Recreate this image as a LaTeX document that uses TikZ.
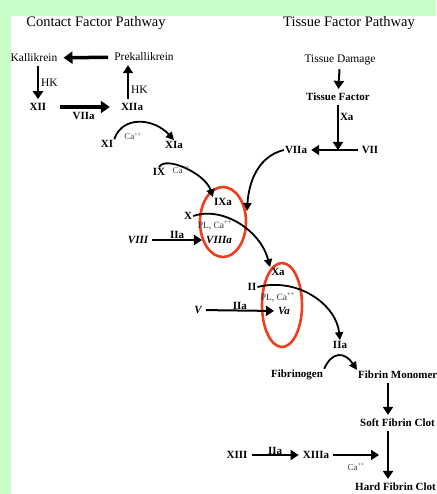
\documentclass[tikz,border=0pt]{standalone}
\usepackage{fontspec}
\setmainfont{Liberation Serif}
\usetikzlibrary{arrows.meta,positioning,backgrounds}
\definecolor{pagegreen}{RGB}{200,255,200}
\definecolor{ringred}{RGB}{238,62,30}

\begin{document}
\begin{tikzpicture}[x=1pt,y=-1pt,
	title/.style={font=\fontsize{14.5}{16}\selectfont, inner sep=0pt},
	plain/.style={font=\fontsize{11.5}{13}\selectfont, inner sep=1pt},
	fac/.style={font=\fontsize{11}{13}\selectfont\bfseries, inner sep=1pt},
	facit/.style={font=\fontsize{11}{13}\selectfont\bfseries\itshape, inner sep=1pt},
	ion/.style={font=\fontsize{9}{10}\selectfont, text=black!75, inner sep=0pt},
	cofac/.style={font=\fontsize{9.5}{11}\selectfont, text=black!80, inner sep=0pt},
	conv/.style={-{Triangle[length=8pt,width=10pt]}, line width=2pt, shorten <=3pt, shorten >=3pt},
	heavy/.style={-{Triangle[length=9pt,width=12pt]}, line width=3.5pt, shorten <=5pt, shorten >=5pt},
	curv/.style={-{Triangle[length=8pt,width=8pt]}, line width=1.8pt},
	ring/.style={draw=ringred, line width=2.6pt}]

		\useasboundingbox (0,0) rectangle (436,494);
		\clip (0,0) rectangle (436,494);

		% two pathway headings
		\node[title](cfp) at (96,23) {Contact Factor Pathway};
		\node[title](tfp) at (349,23) {Tissue Factor Pathway};

		\node[plain](kal) at (34,58) {Kallikrein};
		\node[plain](pkal) at (144,57) {Prekallikrein};
		\node[fac](xii) at (38,107) {XII};
		\node[fac](xiia) at (132,107) {XIIa};
		\node[fac](xi) at (107,144) {XI};
		\node[fac](xia) at (174,145) {XIa};
		\node[fac](ix) at (159,172) {IX};

		\node[plain](td) at (340,60) {Tissue Damage};
		\node[fac](tf) at (338,97) {Tissue Factor};
		\node[fac](viia) at (296,150) {VIIa};
		\node[fac](vii) at (370,150) {VII};

		\node[fac](ixa) at (223,202) {IXa};
		\node[cofac](pl1) at (215,225) {PL, Ca\textsuperscript{++}};
		\node[facit](viiia) at (219,240) {VIIIa};
		\node[fac](x) at (188,216) {X};
		\node[facit](viii) at (138,240) {VIII};
		\coordinate (ring1) at (247,211);

		\node[fac](xa) at (278,272) {Xa};
		\node[cofac](pl2) at (278,297) {PL, Ca\textsuperscript{++}};
		\node[facit](va) at (284,311) {Va};
		\node[fac](ii) at (252,287) {II};
		\node[facit](v) at (198,310) {V};

		\node[fac](iia) at (340,345) {IIa};
		\node[fac](fbg) at (297,375) {Fibrinogen};
		\node[fac, anchor=west](fm) at (357,375) {Fibrin Monomer};
		\node[fac, anchor=west](sfc) at (359,423) {Soft Fibrin Clot};
		\node[fac, anchor=west](hfc) at (354,487) {Hard Fibrin Clot};
		\node[fac](xiii) at (237,455) {XIII};
		\node[fac](xiiia) at (316,455) {XIIIa};

		\begin{scope}[on background layer]
		\fill[pagegreen] (0,0) rectangle (436,494);
		\fill[white] (11,16) rectangle (436,494);
		\draw[ring] (223,222) ellipse (23 and 35);
		\draw[ring] (282,305) ellipse (20 and 42);
		\end{scope}

		\draw[heavy] (pkal) -- (kal);
		\draw[conv] (kal.south -| xii) -- node[plain, right, xshift=1pt] {HK} (xii);
		\draw[heavy, shorten <=13pt, shorten >=10pt] (xii) -- node[fac, below=3pt] {VIIa} (xiia);
		\draw[conv] (xiia.north -| 128,0) -- node[plain, right, xshift=1pt, pos=0.3] {HK} (pkal.south -| 128,0);

		\draw[curv] (xi.north east) .. controls +(8,-24) and +(-20,-22) .. (xia.north)
			node[ion, pos=0.4, below=9pt] {Ca\textsuperscript{++}};
		\draw[curv] (ix.north) .. controls +(6,-12) and +(-8,-24) .. (ixa.north west);
		\node[ion, right=6pt of ix, yshift=2pt] {Ca\textsuperscript{++}};

		\draw[conv] (td) -- (tf);
		\draw[conv, shorten >=0pt] (tf) -- node[fac, right, pos=0.3] {Xa} (tf.south |- viia);
		\draw[conv] (vii) -- (viia);
		\draw[curv] (viia.west) .. controls +(-24,6) and +(2,-32) .. (ring1);

		\draw[conv] (viii) -- node[fac, above=-1pt] {IIa} (viiia.west);
		\draw[curv] (x.east) .. controls +(28,-10) and +(-10,-38) .. (xa.north west);

		\draw[conv] (v) -- node[fac, above=-1pt] {IIa} (va.west);
		\draw[curv] (ii.east) .. controls +(40,-10) and +(-4,-36) .. (iia.north);

		\draw[curv] (fbg.north east) .. controls +(8,-18) and +(-12,-18) .. (fm.north west);
		\draw[conv] (fm.south -| 388,0) -- (sfc.north -| 388,0);
		\draw[conv] (sfc.south -| 388,0) -- (hfc.north -| 388,0);
		\draw[conv] (xiii) -- node[fac, above=-2pt] {IIa} (xiiia);
		\draw[conv] (xiiia) -- node[ion, below=7pt] {Ca\textsuperscript{++}} (382,455);

		\end{tikzpicture}
\end{document}
